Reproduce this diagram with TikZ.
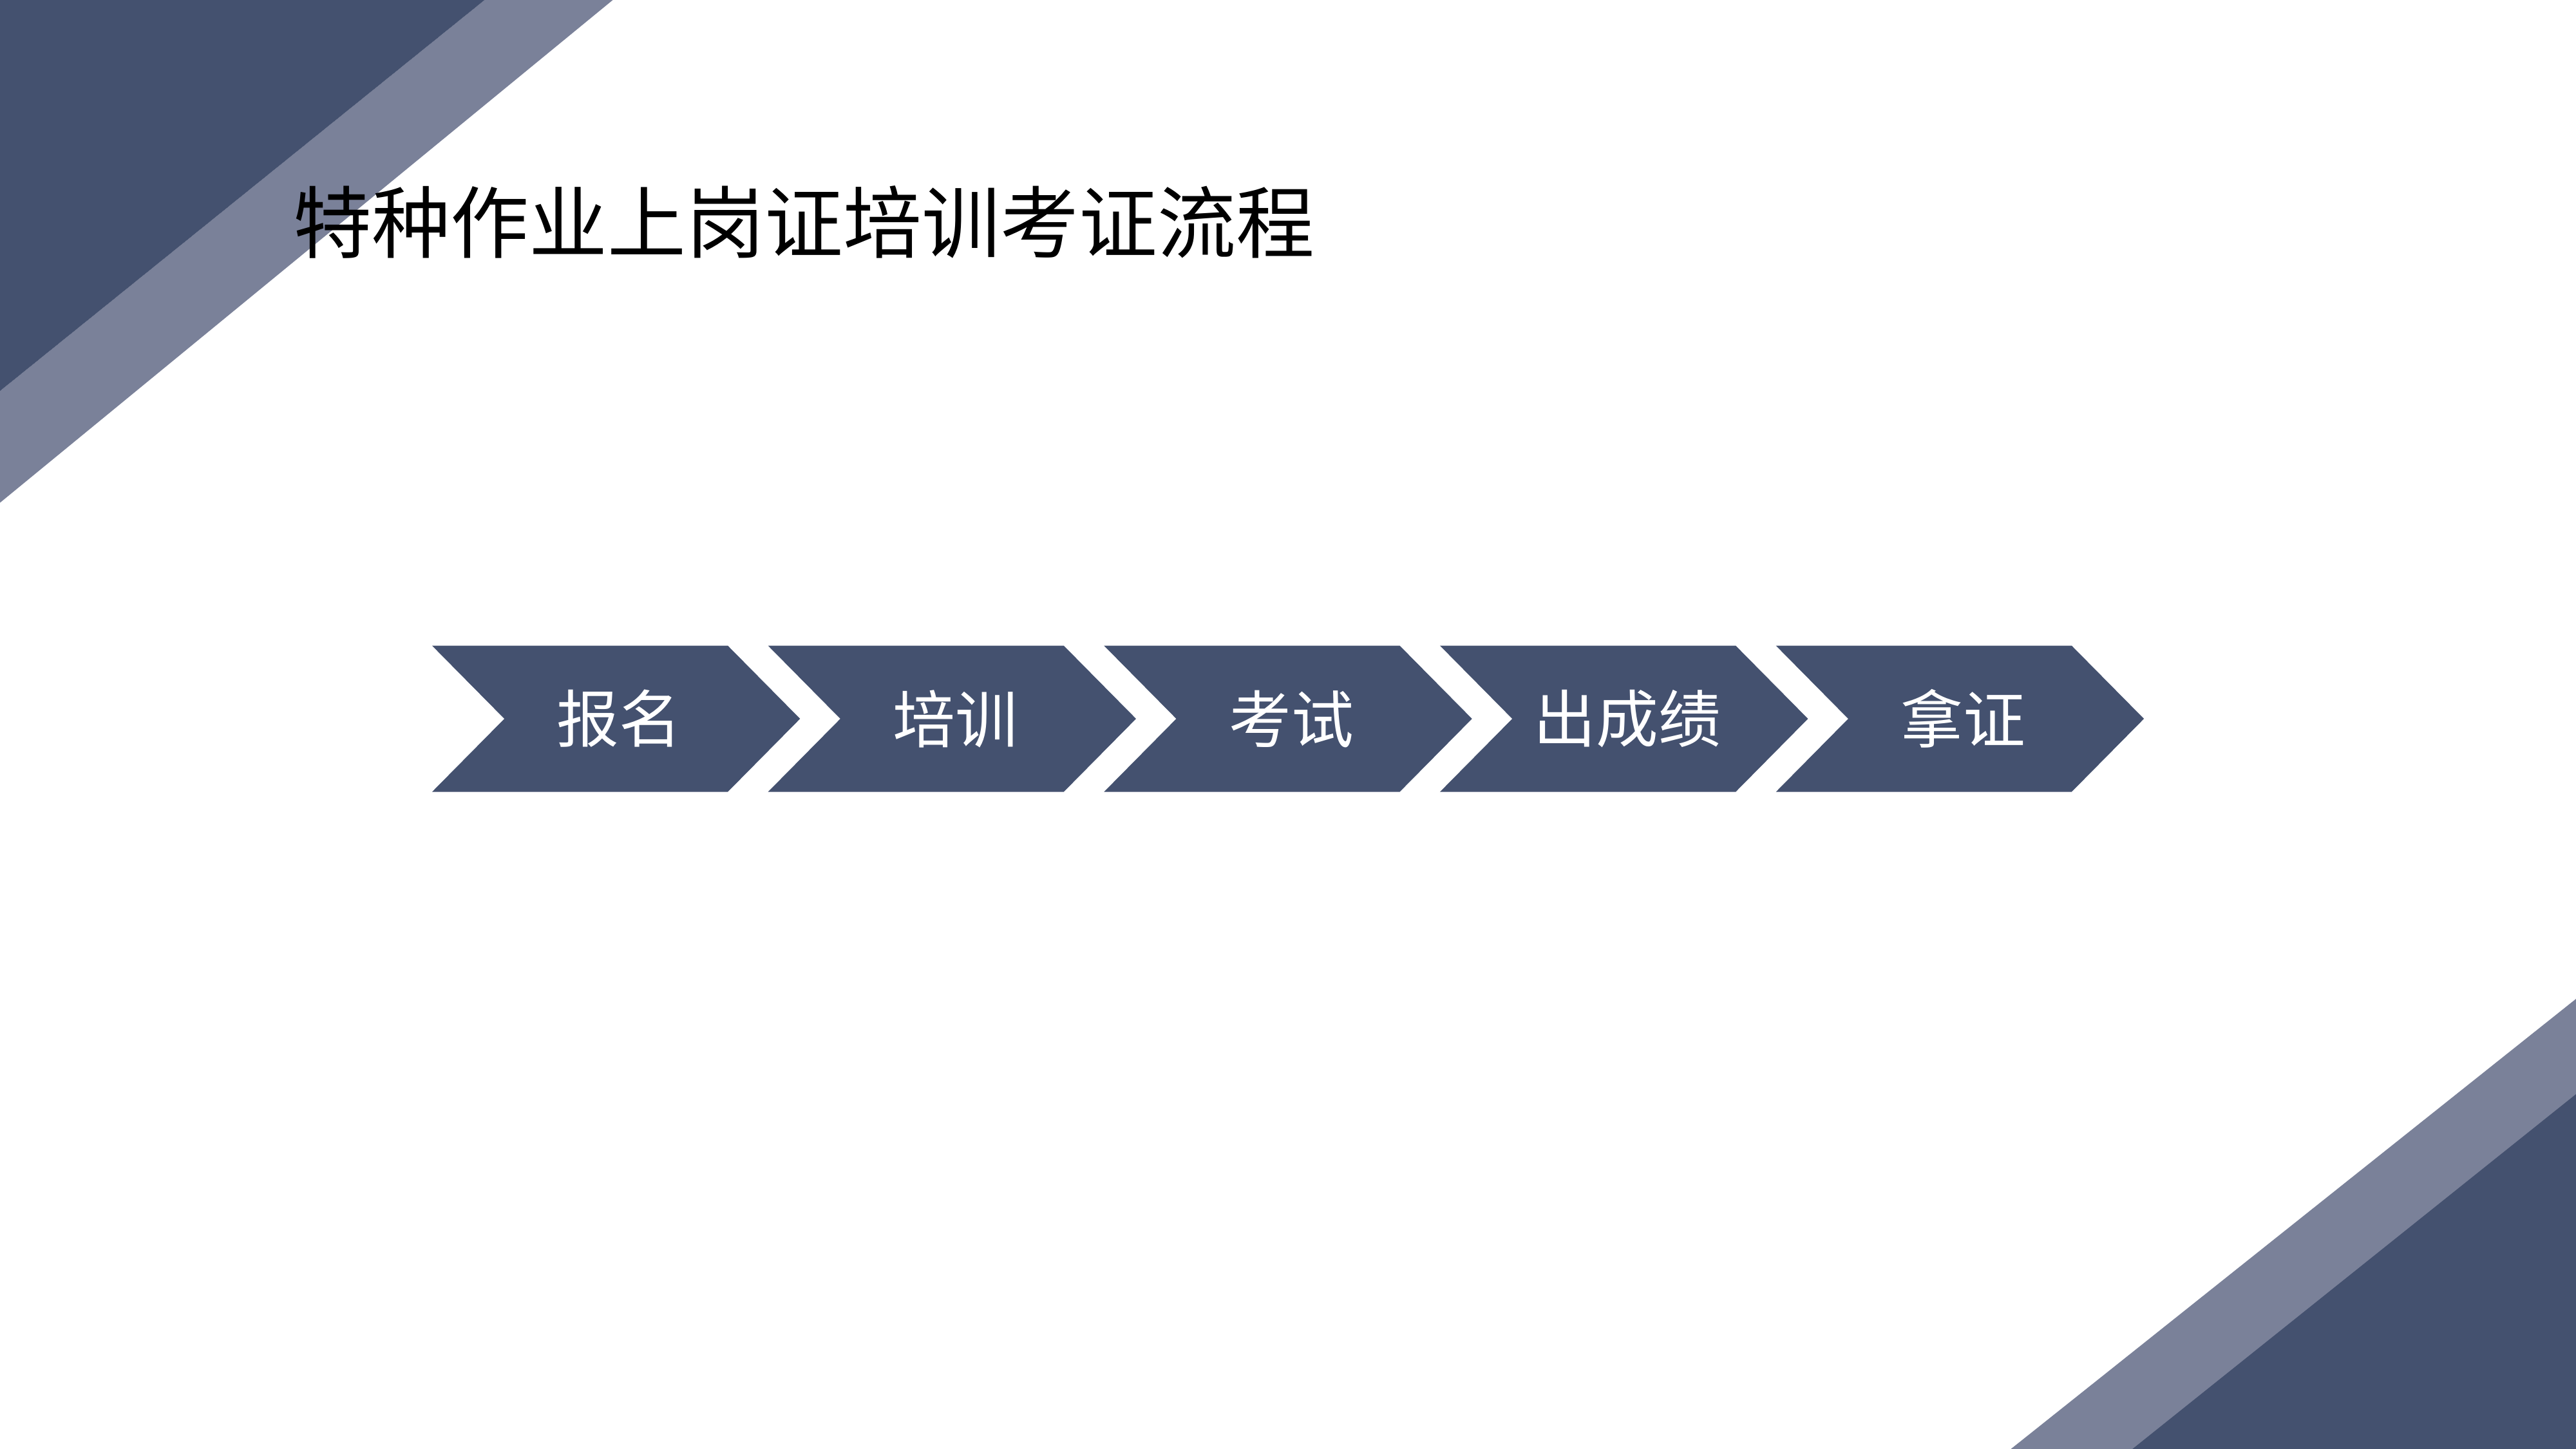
\documentclass[tikz,border=0pt]{standalone}
\usepackage{fontspec}
\newfontfamily\cjk{Noto Sans CJK SC}
\definecolor{dk}{HTML}{44516F}
\definecolor{lt}{HTML}{7A8199}
\begin{document}
\begin{tikzpicture}[x=0.1mm,y=-0.1mm,
  chev/.style={fill=dk,draw=none},
  lab/.style={text=white,font=\cjk\fontsize{10.8pt}{12pt}\selectfont,anchor=center}]
\useasboundingbox (0,0) rectangle (1568,882);
\fill[white] (0,0) rectangle (1568,882);
\fill[lt] (295,0) -- (373,0) -- (0,306) -- (0,238) -- cycle;
\fill[dk] (0,0) -- (295,0) -- (0,238) -- cycle;
\fill[lt] (1568,608) -- (1568,882) -- (1224,882) -- cycle;
\fill[dk] (1568,666) -- (1568,882) -- (1298,882) -- cycle;
\node[anchor=west,font=\cjk\fontsize{13.6pt}{15pt}\selectfont,inner sep=0] (title) at (178,135) {特种作业上岗证培训考证流程};
\foreach \i/\t in {0/报名,1/培训,2/考试,3/出成绩,4/拿证}{
  \pgfmathsetmacro{\xo}{263+204.5*\i}
  \fill[chev] (\xo,393) -- (\xo+180,393) -- (\xo+224,437.5) -- (\xo+180,482) -- (\xo,482) -- (\xo+44,437.5) -- cycle;
  \node[lab] (c\i) at (\xo+114,437.5) {\t};
}
\end{tikzpicture}
\end{document}
